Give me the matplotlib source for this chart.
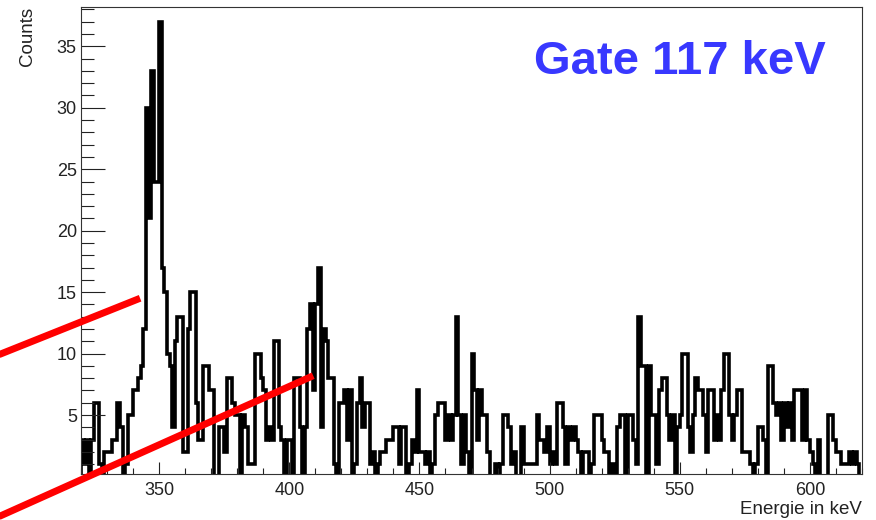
import numpy as np
import matplotlib.pyplot as plt
from matplotlib.ticker import MultipleLocator

plt.rcParams['font.family'] = ['Liberation Sans', 'DejaVu Sans']

# Gamma-spectrum im Gate auf 117 keV, 1 keV pro Bin, 320..620 keV
e_start = 320
counts = [
    3, 1, 3, 0, 3, 6, 6, 1, 0, 2,        # 320
    2, 2, 3, 3, 6, 4, 0, 1, 5, 5,        # 330
    7, 7, 8, 9, 12, 30, 21, 33, 24, 24,  # 340
    37, 17, 15, 10, 9, 4, 11, 13, 13, 2, # 350
    2, 12, 15, 15, 6, 3, 3, 9, 9, 7,     # 360
    7, 0, 0, 4, 4, 2, 8, 8, 6, 5,        # 370
    5, 0, 5, 4, 1, 1, 1, 10, 10, 8,      # 380
    7, 3, 4, 3, 11, 11, 4, 3, 0, 3,      # 390
    3, 0, 8, 8, 4, 0, 4, 12, 14, 7,      # 400
    14, 17, 4, 12, 11, 8, 8, 1, 0, 6,    # 410
    6, 7, 3, 7, 0, 1, 6, 8, 4, 6,        # 420
    6, 1, 2, 0, 1, 2, 2, 3, 3, 3,        # 430
    4, 4, 1, 4, 4, 0, 1, 3, 2, 7,        # 440
    2, 2, 1, 2, 0, 1, 5, 6, 6, 6,        # 450
    3, 5, 3, 5, 13, 5, 1, 5, 2, 0,       # 460
    10, 7, 3, 7, 5, 5, 2, 0, 0, 1,       # 470
    0, 1, 5, 5, 4, 1, 2, 0, 0, 4,        # 480
    1, 1, 1, 1, 1, 5, 3, 3, 2, 4,        # 490
    1, 2, 1, 6, 6, 4, 1, 4, 3, 4,        # 500
    3, 2, 0, 2, 2, 0, 1, 5, 5, 5,        # 510
    3, 2, 2, 0, 1, 0, 4, 5, 5, 0,        # 520
    5, 5, 3, 1, 13, 9, 9, 0, 9, 5,       # 530
    5, 1, 7, 8, 8, 5, 3, 5, 0, 4,        # 540
    5, 10, 10, 4, 2, 5, 8, 7, 7, 5,      # 550
    2, 7, 7, 3, 5, 3, 7, 10, 10, 5,      # 560
    3, 5, 7, 7, 2, 2, 2, 1, 0, 1,        # 570
    4, 4, 3, 0, 9, 9, 6, 5, 6, 3,        # 580
    6, 4, 6, 3, 7, 7, 7, 3, 7, 3,        # 590
    2, 1, 0, 3, 0, 0, 0, 5, 5, 3,        # 600
    2, 2, 1, 1, 1, 2, 1, 2, 1, 0,        # 610
]
edges = np.arange(e_start, e_start + len(counts) + 1)

# rote Hinweislinien (keV, Counts)
pointer_x = [[286, 342.7], [286, 409.2]]
pointer_y = [[9.7, 14.5], [-3.5, 8.2]]

fig = plt.figure(figsize=(8.76, 5.2), dpi=100)
ax = fig.add_axes([81/876, 46/520, 781/876, 467/520])

ax.stairs(counts, edges, color='black', lw=2.6, joinstyle='miter')

ax.set_xlim(320, 620)
ax.set_ylim(0.2, 38.2)

ax.xaxis.set_major_locator(MultipleLocator(50))
ax.xaxis.set_minor_locator(MultipleLocator(10))
ax.yaxis.set_major_locator(MultipleLocator(5))
ax.yaxis.set_minor_locator(MultipleLocator(1))
ax.set_yticks([5, 10, 15, 20, 25, 30, 35])

ax.tick_params(axis='both', which='both', direction='in', width=0.8,
               colors='#222222', labelsize=13, top=False, right=False)
ax.tick_params(axis='y', which='major', length=17.5, pad=3)
ax.tick_params(axis='y', which='minor', length=9)
ax.tick_params(axis='x', which='major', length=8.5, pad=6)
ax.tick_params(axis='x', which='minor', length=4.5)

for s in ax.spines.values():
    s.set_linewidth(0.8)
    s.set_color('#333333')

ax.set_xlabel('Energie in keV', loc='right', fontsize=13.5, color='#222222')
ax.xaxis.set_label_coords(1.0, -0.057)
ax.set_ylabel('Counts', loc='top', fontsize=13.5, color='#222222')
ax.yaxis.set_label_coords(-0.057, 1.0)

for px, py in zip(pointer_x, pointer_y):
    ax.plot(px, py, color='#FF0000', lw=5, solid_capstyle='butt',
            clip_on=False, zorder=5)

fig.text(680/876, 1 - 74/520, 'Gate 117 keV', ha='center', va='baseline',
         fontsize=34, fontweight='bold', color='#3838FF')

fig.savefig('out.png', dpi=100)
